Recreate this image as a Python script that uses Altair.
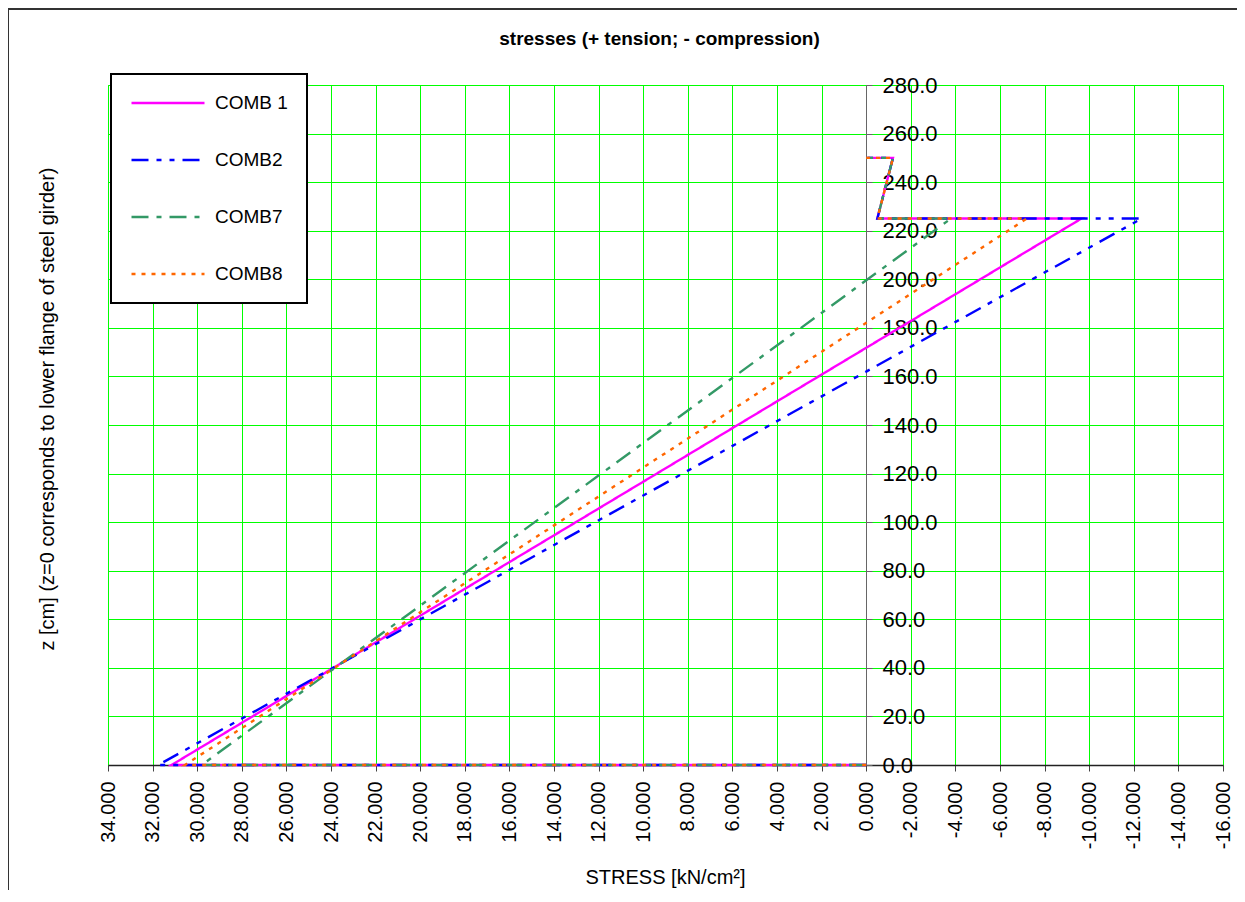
import altair as alt
import pandas as pd

# ---- data ----
series = ["COMB 1", "COMB2", "COMB7", "COMB8"]
colors = ["#FF00FF", "#0000FF", "#339966", "#FF6600"]
dashes = [[1, 0], [17, 8, 5, 8, 5, 8], [17, 8, 5, 8], [4, 6]]

# each path: z=0 at 0 -> bottom stress -> peak at slab bottom -> slab -> top
z_path = [0.0, 0.0, 225.0, 225.0, 250.0, 250.0]
stress_paths = {
    "COMB 1": [0.0, 31.15, -9.65, -0.5, -1.2, 0.0],
    "COMB2":  [0.0, 31.75, -12.35, -0.5, -1.2, 0.0],
    "COMB7":  [0.0, 29.80, -3.80, -0.5, -1.2, 0.0],
    "COMB8":  [0.0, 30.55, -7.20, -0.5, -1.2, 0.0],
}

x_ticks = list(range(34, -17, -2))
y_ticks = list(range(0, 281, 20))

rows = []
for s in series:
    for i, (st, z) in enumerate(zip(stress_paths[s], z_path)):
        rows.append({"series": s, "stress": st, "z": z, "order": i})
df = pd.DataFrame(rows)

W, H = 1115, 680
FONT = "Liberation Sans"
MINUS = "\u2212"

lines = alt.Chart(df).mark_line(strokeWidth=2.4, clip=False).encode(
    x=alt.X("stress:Q",
            scale=alt.Scale(domain=[34, -16], nice=False, zero=False),
            axis=alt.Axis(values=x_ticks, title=None,
                          labelExpr=f"replace(format(datum.value, '.3f'), '{MINUS}', '-')",
                          labelAngle=270, labelAlign="right", labelBaseline="middle",
                          labelFontSize=20, labelPadding=10, tickSize=6,
                          domainColor="#222222", domainWidth=1.5,
                          tickColor="#444444", grid=True)),
    y=alt.Y("z:Q",
            scale=alt.Scale(domain=[0, 280], nice=False),
            axis=alt.Axis(values=y_ticks, format=".1f", title=None, orient="right",
                          offset=-357, labelFontSize=22, labelPadding=10, tickSize=6,
                          domainColor="#666666", tickColor="#666666", grid=True)),
    color=alt.Color("series:N",
                    scale=alt.Scale(domain=series, range=colors),
                    legend=alt.Legend(orient="none", legendX=3, legendY=-11, title=None,
                                      symbolType="stroke", symbolSize=5329,
                                      symbolStrokeWidth=2.5, labelFontSize=19,
                                      clipHeight=20, rowPadding=37, padding=19,
                                      labelOffset=9,
                                      strokeColor="black", fillColor="white")),
    strokeDash=alt.StrokeDash("series:N",
                              scale=alt.Scale(domain=series, range=dashes),
                              legend=alt.Legend(orient="none", legendX=3, legendY=-11,
                                                title=None)),
    order="order:Q",
)

one = pd.DataFrame({"a": [0]})

title = alt.Chart(one).mark_text(text="stresses (+ tension; - compression)",
                                 font=FONT, fontSize=19, fontWeight="bold",
                                 align="center", baseline="middle", color="black").encode(
    x=alt.value(W / 2 - 6), y=alt.value(-46))

ytitle = alt.Chart(one).mark_text(text="z [cm] (z=0 corresponds to lower flange of steel girder)",
                                  font=FONT, fontSize=20, angle=270,
                                  align="center", baseline="middle", color="black").encode(
    x=alt.value(-60), y=alt.value(324))

xtitle = alt.Chart(one).mark_text(text="STRESS [kN/cm\u00b2]",
                                  font=FONT, fontSize=20,
                                  align="center", baseline="middle", color="black").encode(
    x=alt.value(W / 2), y=alt.value(113 + H))

border_top = alt.Chart(one).mark_rule(color="#333333", strokeWidth=2).encode(
    x=alt.value(-100), x2=alt.value(1140), y=alt.value(-76))
border_left = alt.Chart(one).mark_rule(color="#333333", strokeWidth=2).encode(
    x=alt.value(-100), y=alt.value(-76), y2=alt.value(H + 140))

chart = alt.layer(border_top, border_left, lines, title, ytitle, xtitle).properties(
    width=W, height=H,
    autosize=alt.AutoSizeParams(type="none"),
    padding={"left": 100, "top": 77, "right": 14, "bottom": 125},
    background="white",
).configure_view(stroke="#00FF00", strokeWidth=1).configure_axis(
    gridColor="#00FF00", gridWidth=1, gridOpacity=1,
    labelFont=FONT, labelColor="black", titleFont=FONT,
).configure_legend(
    strokeWidth=2, labelFont=FONT, labelColor="black",
)

chart.save("out.html", embed_options={"renderer": "svg", "actions": False})
